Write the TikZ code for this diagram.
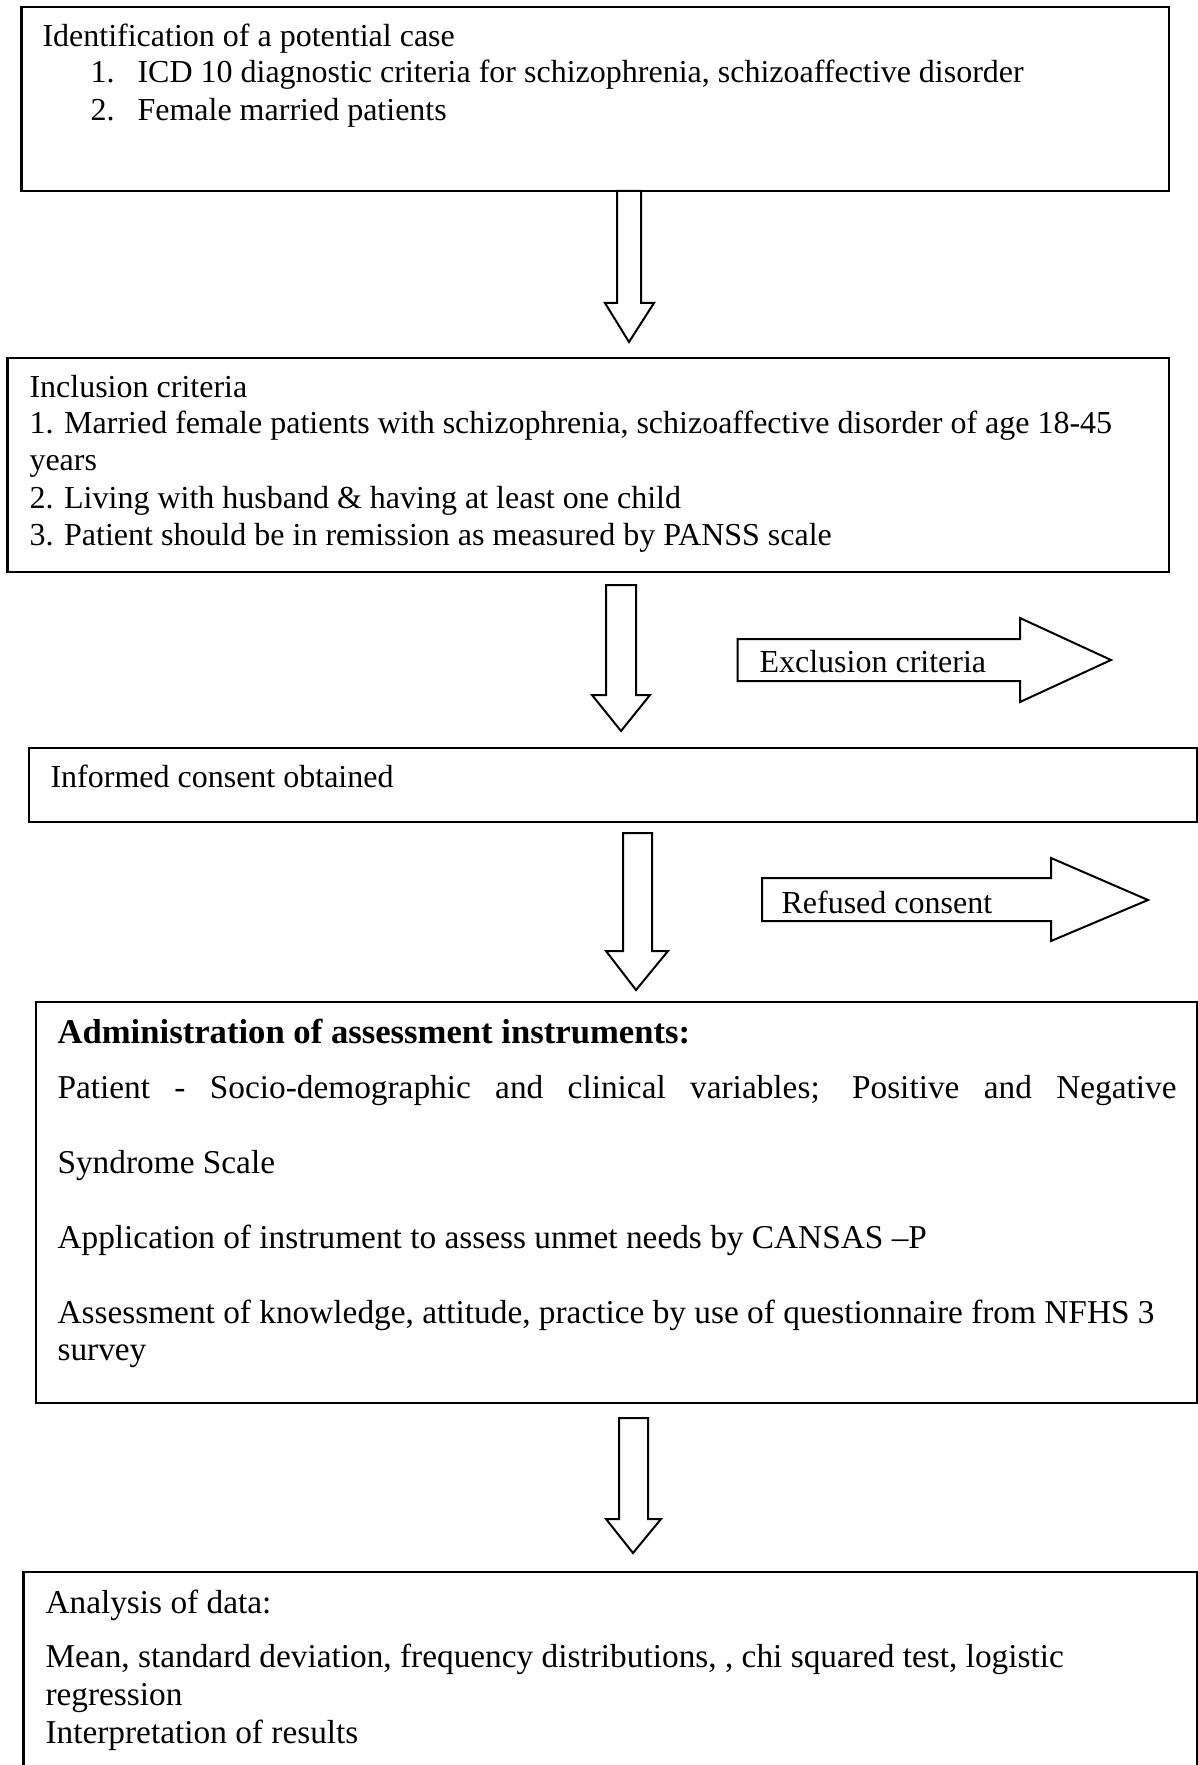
\documentclass[tikz,border=0pt]{standalone}
\usepackage{fontspec}
\setmainfont{Liberation Serif}
\usetikzlibrary{fit}
\newcommand{\tnr}{\fontsize{12pt}{14pt}\selectfont}
\newcommand{\cmb}{\fontsize{12.5pt}{15pt}\selectfont}
\newcommand{\cmbh}{\fontsize{13pt}{15pt}\selectfont\bfseries}
\tikzset{
  box/.style={draw, line width=0.95pt, inner sep=0pt},
  blockarr/.style={draw, line width=0.75pt, fill=white, line join=miter},
  txt/.style={anchor=base west, inner sep=0pt, font=\tnr},
  ctxt/.style={anchor=base west, inner sep=0pt, font=\cmb},
  htxt/.style={anchor=base west, inner sep=0pt, font=\cmbh},
}
\begin{document}
\begin{tikzpicture}[x=0.375pt, y=-0.375pt]
\useasboundingbox (0,0) rectangle (1198,1765);
\fill[white] (0,0) rectangle (1198,1765);
\clip (0,0) rectangle (1198,1765);

% boxes
\node[box, fit={(21.7,7) (1169,191)}] (b1) {};
\node[box, fit={(7.6,358) (1169,572)}] (b2) {};
\node[box, fit={(29,748) (1197,822)}] (b3) {};
\node[box, fit={(36,1002) (1197,1403)}] (b4) {};
\node[box, fit={(23.3,1572) (1197,1800)}] (b5) {};

% box 1 text
\node[txt] (t1a) at (42,47) {Identification of a potential case};
\node[txt] (t1b) at (90,83) {1.};
\node[txt] (t1c) at (137,83) {ICD 10 diagnostic criteria for schizophrenia, schizoaffective disorder};
\node[txt] (t1d) at (90,121) {2.};
\node[txt] (t1e) at (137,121) {Female married patients};

% box 2 text
\node[txt] (t2a) at (29,397) {Inclusion criteria};
\node[txt] (t2b) at (29,433) {1. Married female patients with schizophrenia, schizoaffective disorder of age 18-45};
\node[txt] (t2c) at (29,470) {years};
\node[txt] (t2d) at (29,508) {2. Living with husband \& having at least one child};
\node[txt] (t2e) at (29,545) {3. Patient should be in remission as measured by PANSS scale};

% box 3 text
\node[txt] (t3a) at (50,787) {Informed consent obtained};

% box 4 text
\node[htxt] (t4a) at (57,1043) {Administration of assessment instruments:};
\node[ctxt] (t4b) at (57,1098) {\makebox[419.6pt][s]{Patient - Socio-demographic and clinical variables; Positive and Negative}};
\node[ctxt] (t4c) at (57,1173) {Syndrome Scale};
\node[ctxt] (t4d) at (57,1248) {Application of instrument to assess unmet needs by CANSAS –P};
\node[ctxt] (t4e) at (57,1323) {Assessment of knowledge, attitude, practice by use of questionnaire from NFHS 3};
\node[ctxt] (t4f) at (57,1360) {survey};

% box 5 text
\node[ctxt] (t5a) at (45,1613) {Analysis of data:};
\node[ctxt] (t5b) at (45,1667) {Mean, standard deviation, frequency distributions, , chi squared test, logistic};
\node[ctxt] (t5c) at (45,1705) {regression};
\node[ctxt] (t5d) at (45,1743) {Interpretation of results};

% down block arrows
\draw[blockarr] (617,191) -- (617,303) -- (605,303) -- (629,342) -- (654,303) -- (641,303) -- (641,191) -- cycle;
\draw[blockarr] (606,585) -- (606,695) -- (592,695) -- (621,731) -- (650,695) -- (636,695) -- (636,585) -- cycle;
\draw[blockarr] (623,833) -- (623,951) -- (606,951) -- (636,990) -- (668,951) -- (652,951) -- (652,833) -- cycle;
\draw[blockarr] (619,1418) -- (619,1519) -- (606,1519) -- (633,1553) -- (661,1519) -- (648,1519) -- (648,1418) -- cycle;

% side block arrows
\draw[blockarr] (737.7,639) -- (1020,639) -- (1020,618) -- (1111,660) -- (1020,702) -- (1020,681) -- (737.7,681) -- cycle;
\node[txt] (ex) at (759,672) {Exclusion criteria};
\draw[blockarr] (762,878) -- (1051,878) -- (1051,858) -- (1148,900) -- (1051,941) -- (1051,921) -- (762,921) -- cycle;
\node[txt] (rc) at (781,913) {Refused consent};
\end{tikzpicture}
\end{document}
